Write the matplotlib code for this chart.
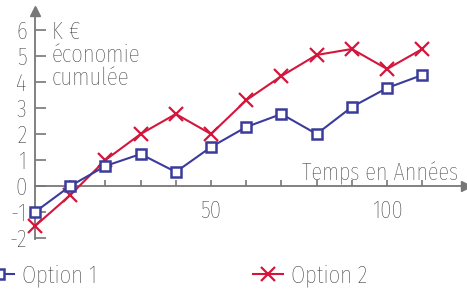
import matplotlib.pyplot as plt

# Données
annees = [0, 10, 20, 30, 40, 50, 60, 70, 80, 90, 100, 110]
option1 = [-1.0, 0.0, 0.77, 1.23, 0.54, 1.5, 2.27, 2.77, 2.0, 3.04, 3.77, 4.27]
option2 = [-1.54, -0.35, 1.0, 2.0, 2.77, 2.0, 3.3, 4.23, 5.04, 5.27, 4.5, 5.27]
y_ticks = [-2, -1, 0, 1, 2, 3, 4, 5, 6]
x_ticks = [10, 20, 30, 40, 50, 60, 70, 80, 90, 100, 110]
x_labels_shown = [50, 100]

BLEU = '#3b3b9b'
ROUGE = '#d4163c'
GRIS = '#777777'
TEXTE = '#2e2e2e'

plt.rcParams['font.family'] = ['Fira Sans Extra Condensed', 'DejaVu Sans']
plt.rcParams['font.weight'] = 'light'

fig = plt.figure(figsize=(4.67, 2.89), dpi=100)
ax = fig.add_axes([0, 0, 1, 1])
ax.set_xlim(-9.94, 122.7)
ax.set_ylim(-3.96, 7.154)

ax.plot(annees, option1, color=BLEU, lw=1.5, marker='s', ms=7.5,
        mfc='white', mec=BLEU, mew=1.8, label='Option 1', zorder=4)
ax.plot(annees, option2, color=ROUGE, lw=1.5, marker='x', ms=9.5,
        mew=1.6, label='Option 2', zorder=3)

for side in ['top', 'right']:
    ax.spines[side].set_visible(False)
ax.spines['left'].set_position(('data', 0))
ax.spines['bottom'].set_position(('data', 0))
ax.spines['left'].set_bounds(-2.05, 6.7)
ax.spines['bottom'].set_bounds(0, 122)
for side in ['left', 'bottom']:
    ax.spines[side].set_color(GRIS)
    ax.spines[side].set_linewidth(1.3)

# flèches des axes
ax.plot(0, 6.75, marker='^', ms=7, color=GRIS, clip_on=False, zorder=2)
ax.plot(122.3, 0, marker='>', ms=7, color=GRIS, clip_on=False, zorder=2)

ax.set_yticks(y_ticks)
ax.set_yticklabels([str(v) for v in y_ticks])
ax.set_xticks(x_ticks)
ax.set_xticklabels([str(v) if v in x_labels_shown else '' for v in x_ticks])
ax.tick_params(axis='y', direction='in', length=8, width=1.2, color=GRIS,
               labelsize=18, labelcolor=TEXTE, pad=6)
ax.tick_params(axis='x', direction='in', length=4, width=1.2, color=GRIS,
               labelsize=18, labelcolor=TEXTE, pad=10)

ax.text(4.8, 5.05, 'K €\néconomie\ncumulée', fontsize=18, color=TEXTE,
        va='center', ha='left', linespacing=1.0)
ax.text(120.2, 0.23, 'Temps en Années', fontsize=17.5, color=TEXTE,
        va='baseline', ha='right')

fig.legend(loc='center left', bbox_to_anchor=(-0.035, 0.045), ncol=2,
           frameon=False, fontsize=18, labelcolor=TEXTE, handlelength=1.2,
           handletextpad=0.35, columnspacing=6.2, borderpad=0,
           borderaxespad=0)

fig.savefig('out.png', dpi=100)
